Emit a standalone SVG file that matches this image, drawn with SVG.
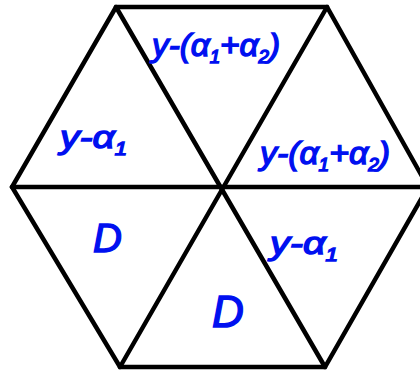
<svg xmlns="http://www.w3.org/2000/svg" width="420" height="371" viewBox="0 0 420 371">
<style>
.edge{stroke:#000;stroke-width:4.5;fill:none;stroke-linejoin:miter;stroke-linecap:round}
.lbl{font-family:"Liberation Sans",Arial,sans-serif;font-style:italic;fill:#0010f0;stroke:#0010f0;stroke-width:1.4}
</style>
<rect width="420" height="371" fill="#fff"/>
<g id="edges">
<polygon class="edge" points="116,7 327,7 428,187 325,367 120,367 12,187"/>
<line class="edge" x1="116" y1="7" x2="325" y2="367"/>
<line class="edge" x1="327" y1="7" x2="120" y2="367"/>
<line class="edge" x1="12" y1="187" x2="420" y2="187"/>
</g>
<g id="t-top"><text class="lbl" x="152" y="56" font-size="32" textLength="128" lengthAdjust="spacingAndGlyphs">y-(α<tspan font-size="18" dy="7">1</tspan><tspan dy="-7">+α</tspan><tspan font-size="18" dy="7">2</tspan><tspan dy="-7">)</tspan></text></g>
<g id="t-left"><text class="lbl" x="60" y="148" font-size="32" textLength="67" lengthAdjust="spacingAndGlyphs">y-α<tspan font-size="18" dy="7">1</tspan></text></g>
<g id="t-right"><text class="lbl" x="260" y="164" font-size="32" textLength="130" lengthAdjust="spacingAndGlyphs">y-(α<tspan font-size="18" dy="7">1</tspan><tspan dy="-7">+α</tspan><tspan font-size="18" dy="7">2</tspan><tspan dy="-7">)</tspan></text></g>
<g id="t-lr"><text class="lbl" x="270" y="254" font-size="32" textLength="68" lengthAdjust="spacingAndGlyphs">y-α<tspan font-size="18" dy="7">1</tspan></text></g>
<g id="t-d1"><text class="lbl" x="93" y="252" font-size="40">D</text></g>
<g id="t-d2"><text class="lbl" x="212" y="327" font-size="44">D</text></g>
</svg>
